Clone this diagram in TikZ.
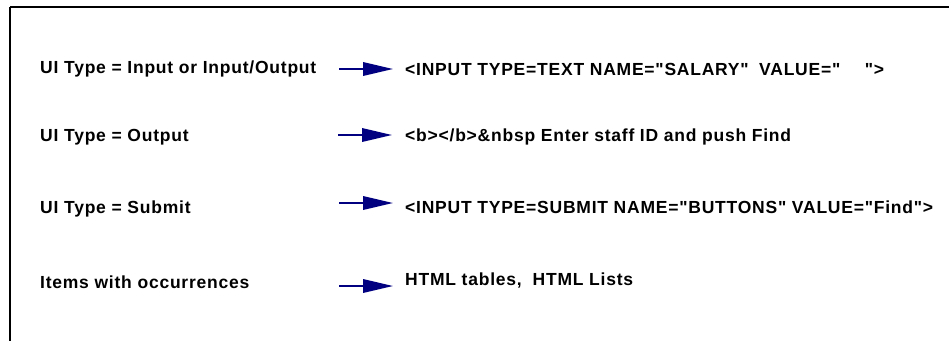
\documentclass[tikz,border=0pt]{standalone}
\usepackage{fontspec}
\setmainfont{Liberation Sans}[Ligatures=TeXOff, LetterSpace=4.4]
\usetikzlibrary{arrows.meta}
\definecolor{arrowblue}{RGB}{0,0,128}
\tikzset{
  x=1pt, y=-1pt,
  frameline/.style={line width=2pt, black},
  lefttext/.style={anchor=west, inner sep=0pt, font=\fontsize{17.5}{20}\selectfont\bfseries},
  righttext/.style={anchor=west, inner sep=0pt, font=\fontsize{17.5}{20}\selectfont\bfseries},
  maparrow/.style={arrowblue, line width=1.8pt,
    -{Triangle[length=30pt,width=13.5pt]}}
}
\begin{document}
\begin{tikzpicture}
\useasboundingbox (0,0) rectangle (949,341);
% open frame: top and left edges only
\draw[frameline] (10,7) -- (949,7);
\draw[frameline] (10,7) -- (10,341);

% left column
\node[lefttext] (l1) at (40,69)  {UI Type = Input or Input/Output};
\node[lefttext] (l2) at (40,137) {UI Type = Output};
\node[lefttext] (l3) at (40,209) {UI Type = Submit};
\node[lefttext] (l4) at (40,282) {Items with occurrences};

% right column
\node[righttext] (r1) at (405,69)  {<INPUT TYPE=TEXT NAME="SALARY"\hspace{0.6em}VALUE="\hspace{1.4em}">};
\node[righttext] (r2) at (405,137) {<b></b>\&nbsp Enter staff ID and push Find};
\node[righttext] (r3) at (405,207) {<INPUT TYPE=SUBMIT NAME="BUTTONS" VALUE="Find">};
\node[righttext] (r4) at (405,281) {HTML tables,\hspace{0.3em} HTML Lists};

% arrow ends
\coordinate (s1) at (339,69);  \coordinate (e1) at (393,69);
\coordinate (s2) at (338,135); \coordinate (e2) at (392,135);
\coordinate (s3) at (339,203); \coordinate (e3) at (393,203);
\coordinate (s4) at (339,286); \coordinate (e4) at (393,286);

\draw[maparrow] (s1) -- (e1);
\draw[maparrow] (s2) -- (e2);
\draw[maparrow] (s3) -- (e3);
\draw[maparrow] (s4) -- (e4);
\end{tikzpicture}
\end{document}
